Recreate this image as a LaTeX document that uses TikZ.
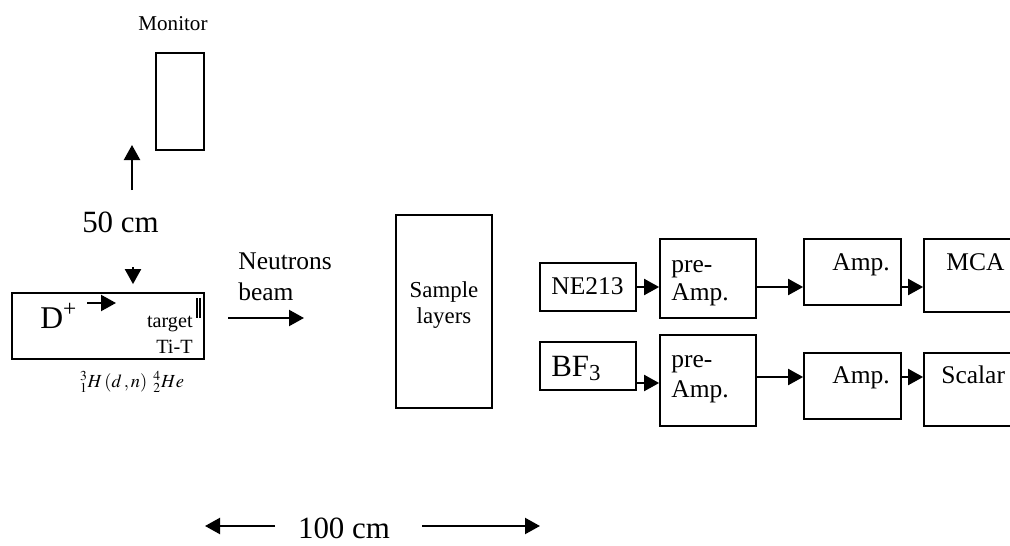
\documentclass[tikz,border=0pt]{standalone}
\usepackage{mathptmx}
\usepackage{fontspec}
\setmainfont{Liberation Serif}
\usetikzlibrary{calc, arrows.meta}

\begin{document}
\begin{tikzpicture}[
        font=\fontsize{14.5}{17}\selectfont,
        box/.style={draw=black, line width=1pt, inner sep=0pt},
        lbl/.style={inner sep=0pt, anchor=base west},
        arr/.style={-{Triangle[length=0.3cm, width=0.32cm]}, line width=1.2pt},
        big/.style={font=\fontsize{17.6}{20}\selectfont}
    ]
    \useasboundingbox (0,0) rectangle (20.2,10.9);

    % Monitor
    \node[inner sep=0pt, anchor=base, font=\fontsize{12}{14}\selectfont] (montxt) at (3.46, 10.3) {Monitor};
    \node[box, minimum width=0.96cm, minimum height=1.94cm] (monitor) at (3.6, 8.87) {};
    \coordinate (upS) at (2.64, 7.1);
    \coordinate (upE) at (2.64, 8.0);
    \draw[arr] (upS) -- (upE);
    \node[big, inner sep=0pt, anchor=base] (dist50) at (2.41, 6.26) {50 cm};

    % Target
    \node[box, minimum width=3.84cm, minimum height=1.32cm] (target) at (2.16, 4.38) {};
    \coordinate (downS) at (2.66, 5.56);
    \draw[arr] (downS) -- ([yshift=0.16cm]target.north -| downS);
    \node[lbl, font=\fontsize{18}{20}\selectfont] (dplus) at (0.8, 4.34) {D\textsuperscript{+}};
    \coordinate (dS) at (1.74, 4.84);
    \coordinate (dE) at (2.32, 4.84);
    \draw[arr] (dS) -- (dE);
    \draw[line width=0.6pt] (3.94, 4.94) -- (3.94, 4.54) (4.0, 4.94) -- (4.0, 4.54);
    \node[lbl, anchor=base east, font=\fontsize{11.5}{13}\selectfont] (tgttxt) at (3.86, 4.36) {target};
    \node[lbl, anchor=base east, font=\fontsize{11.5}{13}\selectfont] (titxt) at (3.86, 3.84) {Ti-T};
    \node[inner sep=0pt, anchor=base, font=\fontsize{10.5}{12}\selectfont] (react) at (2.64, 3.16) {${}^{3}_{1}H\,(d\,,n)\;\,{}^{4}_{2}He$};

    % Neutrons beam
    \node[lbl] (neutxt) at (4.76, 5.52) {Neutrons};
    \node[lbl] (beamtxt) at (4.76, 4.9) {beam};
    \coordinate (beamS) at (4.56, 4.54);
    \coordinate (beamE) at (6.08, 4.54);
    \draw[arr] (beamS) -- (beamE);

    % Sample
    \node[box, minimum width=1.92cm, minimum height=3.86cm] (sample) at (8.88, 4.67) {};
    \node[inner sep=0pt, anchor=base, font=\fontsize{13}{15}\selectfont] (samtxt) at (8.88, 4.96) {Sample};
    \node[inner sep=0pt, anchor=base, font=\fontsize{13}{15}\selectfont] (laytxt) at (8.88, 4.44) {layers};

    % ================= NE213 chain =================
    \node[box, minimum width=1.92cm, minimum height=0.96cm] (ne213) at (11.76, 5.16) {};
    \node[lbl] at (11.02, 5.02) {NE213};
    \node[box, minimum width=1.92cm, minimum height=1.58cm] (pre1) at (14.16, 5.33) {};
    \node[lbl] at (13.42, 5.46) {pre-};
    \node[lbl] at (13.42, 4.9) {Amp.};
    \node[box, minimum width=1.94cm, minimum height=1.32cm] (amp1) at (17.05, 5.46) {};
    \node[lbl] at (16.64, 5.5) {Amp.};
    \node[box, minimum width=1.94cm, minimum height=1.46cm] (mca) at (19.45, 5.39) {};
    \node[lbl] at (18.92, 5.5) {MCA};

    \draw[arr] (ne213.east) -- (ne213.east -| pre1.west);
    \draw[arr] (pre1.east |- ne213.east) -- (amp1.west |- ne213.east);
    \draw[arr] (amp1.east |- ne213.east) -- (mca.west |- ne213.east);

    % ================= BF3 chain =================
    \node[box, minimum width=1.92cm, minimum height=0.96cm] (bf3) at (11.76, 3.58) {};
    \node[lbl, big] at (11.02, 3.38) {BF\textsubscript{3}};
    \node[box, minimum width=1.92cm, minimum height=1.82cm] (pre2) at (14.16, 3.29) {};
    \node[lbl] at (13.42, 3.56) {pre-};
    \node[lbl] at (13.42, 2.96) {Amp.};
    \node[box, minimum width=1.94cm, minimum height=1.32cm] (amp2) at (17.05, 3.18) {};
    \node[lbl] at (16.64, 3.24) {Amp.};
    \node[box, minimum width=1.94cm, minimum height=1.46cm] (scalar) at (19.45, 3.11) {};
    \node[lbl] at (18.82, 3.24) {Scalar};

    \coordinate (row2) at (0, 3.24);
    \coordinate (row2b) at (0, 3.36);
    \draw[arr] (bf3.east |- row2) -- (pre2.west |- row2);
    \draw[arr] (pre2.east |- row2b) -- (amp2.west |- row2b);
    \draw[arr] (amp2.east |- row2b) -- (scalar.west |- row2b);

    % Distance
    \node[big, inner sep=0pt, anchor=base] (dist100) at (6.88, 0.14) {100 cm};
    \coordinate (lenLS) at (5.5, 0.38);
    \coordinate (lenLE) at (4.1, 0.38);
    \coordinate (lenRS) at (8.44, 0.38);
    \coordinate (lenRE) at (10.8, 0.38);
    \draw[arr] (lenLS) -- (lenLE);
    \draw[arr] (lenRS) -- (lenRE);

\end{tikzpicture}
\end{document}
